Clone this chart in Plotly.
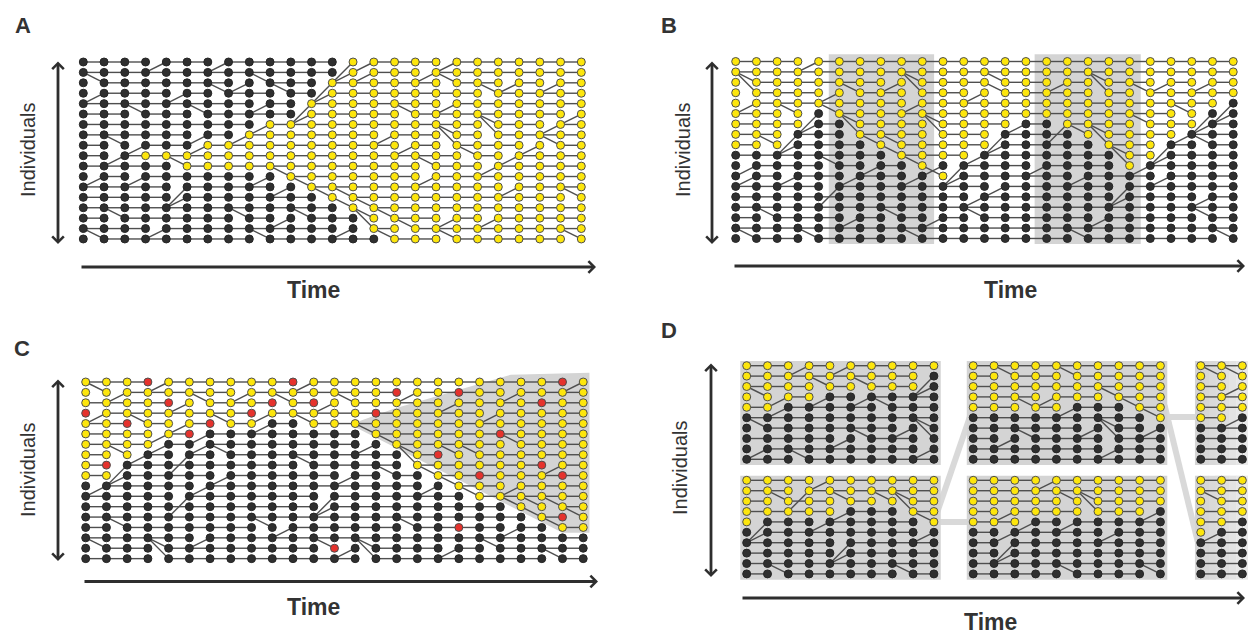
import plotly.graph_objects as go

W, H = 1248, 635

# ---------------- data: node states (run-length: k=black, y=yellow, r=red) ----------------
A_colors = ["k13 y12", "k13 y12", "k12 y13", "k12 y13", "k11 y14", "k11 y14", "k9 y16", "k8 y17",
            "k6 y19", "k3 y22", "k5 y20", "k10 y15", "k11 y14", "k12 y13", "k13 y12", "k14 y11",
            "k14 y11", "k15 y10"]
B_colors = ["y25", "y25", "y25", "y25", "y24 k1", "y4 k1 y18 k2", "y4 k2 y8 k2 y7 k2",
            "y3 k3 y7 k4 y5 k3", "y3 k4 y6 k5 y3 k4", "k8 y4 k7 y2 k4", "k9 y1 k9 y1 k5",
            "k10 y1 k14", "k25", "k25", "k25", "k25", "k25", "k25"]
C_colors = ["y3 r1 y6 r1 y12 r1 y1", "y15 r1 y2 r1 y6", "y4 r1 y4 r1 y1 r1 y10 r1 y2",
            "r1 y7 r1 y5 r1 y10", "y2 r1 y3 r1 y2 k2 y14", "y5 r1 k8 y6 r1 y4", "y4 k11 y10",
            "y3 k13 y1 r1 y7", "y1 r1 k14 y6 r1 y2", "y2 k15 y2 r1 y3 r1 y1", "k18 y7", "k19 y6",
            "k21 y4", "k22 y1 r1 y1", "k18 r1 k4 y2", "k25", "k12 r1 k12", "k25"]
D_TL_colors = ["y10", "y9 k1", "y9 k1", "y4 k6", "y2 k8", "k10", "k10", "k10", "k10", "k10"]
D_BL_colors = ["y10", "y10", "y10", "y5 k3 y2", "y1 k8 y1", "k10", "k10", "k10", "k10", "k10"]
D_MT_colors = ["y10", "y10", "y10", "y10", "y5 k3 y2", "k9 y1", "k10", "k10", "k10", "k10"]
D_MB_colors = ["y10", "y10", "y10", "y9 k1", "y3 k7", "k10", "k10", "k10", "k10", "k10"]
D_RT_colors = ["y3", "y3", "y3", "y3", "y3", "y2 k1", "k3", "k3", "k3", "k3"]
D_RB_colors = ["y3", "y3", "y3", "y3", "y2 k1", "y1 k2", "k3", "k3", "k3", "k3"]

# ---------------- data: parent links that are not horizontal ----------------
# (row, col, code): parent sits in previous column at row + offset
# u: row-1, U: row-2, d: row+1, D: row+2 ; all other links are horizontal
A_diag = [(10, 5, 'u'), (8, 6, 'd'), (7, 8, 'd'), (6, 9, 'd'), (11, 10, 'u'), (5, 11, 'd'), (4, 11, 'D'),
          (12, 11, 'u'), (2, 12, 'D'), (3, 12, 'd'), (13, 12, 'u'), (0, 13, 'D'), (1, 13, 'd'), (14, 13, 'u'),
          (15, 14, 'u'), (16, 14, 'U'), (17, 15, 'u'),
          (0, 4, 'd'), (0, 7, 'd'), (2, 1, 'u'), (2, 9, 'u'), (3, 7, 'u'), (2, 8, 'd'), (3, 1, 'd'), (3, 10, 'u'),
          (3, 5, 'd'), (5, 6, 'u'), (4, 9, 'd'), (5, 3, 'u'), (8, 2, 'u'), (7, 6, 'd'), (8, 3, 'd'), (9, 2, 'd'),
          (11, 1, 'd'), (11, 3, 'd'), (12, 5, 'D'), (13, 5, 'd'), (11, 9, 'd'), (12, 10, 'd'), (15, 2, 'u'),
          (15, 8, 'u'), (15, 11, 'u'), (17, 1, 'u'), (16, 4, 'd'), (17, 9, 'u'), (15, 10, 'd'), (16, 13, 'd'),
          (0, 14, 'd'), (1, 14, 'd'), (0, 18, 'd'), (2, 18, 'u'), (1, 17, 'd'), (3, 20, 'u'), (2, 21, 'd'),
          (2, 23, 'd'), (4, 18, 'd'), (5, 16, 'u'), (6, 20, 'u'), (7, 20, 'U'), (7, 18, 'u'), (8, 18, 'U'),
          (9, 19, 'u'), (6, 23, 'd'), (5, 24, 'd'), (8, 23, 'u'), (7, 15, 'd'), (8, 16, 'd'), (10, 17, 'u'),
          (10, 20, 'd'), (9, 21, 'd'), (8, 22, 'd'), (13, 13, 'u'), (14, 14, 'u'), (15, 15, 'u'), (16, 16, 'u'),
          (11, 17, 'd'), (12, 21, 'd'), (13, 24, 'u'), (15, 18, 'd'), (17, 18, 'u'), (15, 20, 'd'), (17, 24, 'u')]
B_diag = [(5, 4, 'D'), (6, 4, 'd'), (7, 3, 'D'), (8, 3, 'd'), (5, 5, 'u'), (6, 6, 'u'), (7, 6, 'U'), (8, 7, 'u'),
          (9, 8, 'u'), (10, 9, 'u'), (11, 10, 'u'), (10, 10, 'd'), (9, 12, 'd'), (7, 13, 'D'), (8, 13, 'd'),
          (6, 14, 'd'), (6, 16, 'D'), (7, 17, 'u'), (8, 18, 'U'), (9, 19, 'u'), (10, 19, 'U'), (7, 22, 'd'),
          (8, 21, 'D'), (9, 21, 'd'), (10, 20, 'd'), (5, 23, 'D'), (6, 23, 'd'), (4, 24, 'D'), (11, 11, 'd'),
          (0, 4, 'd'), (2, 1, 'u'), (3, 1, 'U'), (4, 1, 'd'), (5, 3, 'u'), (8, 2, 'u'), (3, 5, 'd'), (3, 6, 'u'),
          (2, 8, 'd'), (2, 9, 'u'), (3, 9, 'U'), (4, 9, 'd'), (6, 10, 'u'), (7, 10, 'U'), (3, 12, 'd'),
          (8, 8, 'u'), (2, 13, 'u'), (3, 13, 'u'), (2, 16, 'd'), (2, 18, 'u'), (3, 18, 'U'), (3, 20, 'u'),
          (2, 21, 'd'), (2, 23, 'd'), (7, 18, 'u'), (6, 20, 'u'), (5, 22, 'u'),
          (8, 23, 'u'), (5, 24, 'd'), (10, 1, 'd'), (11, 1, 'd'), (11, 3, 'd'), (15, 2, 'u'), (17, 1, 'u'),
          (17, 4, 'u'), (12, 5, 'D'), (11, 6, 'd'), (10, 7, 'd'), (10, 5, 'u'), (15, 6, 'd'), (15, 8, 'u'),
          (17, 9, 'u'), (11, 9, 'd'), (15, 10, 'd'), (10, 11, 'D'), (13, 12, 'd'), (15, 12, 'u'), (12, 13, 'd'),
          (10, 15, 'd'), (11, 17, 'd'), (13, 19, 'd'), (12, 19, 'D'), (15, 18, 'd'), (17, 17, 'u'),
          (11, 21, 'd'), (13, 23, 'd'), (15, 23, 'u'), (17, 24, 'u')]
C_diag = [(8, 2, 'D'), (9, 2, 'd'), (7, 3, 'd'), (6, 4, 'd'), (5, 6, 'd'), (4, 9, 'd'), (4, 11, 'u'),
          (5, 14, 'u'), (6, 15, 'u'), (7, 16, 'u'), (8, 16, 'U'), (9, 17, 'u'), (10, 18, 'u'), (11, 19, 'u'),
          (12, 21, 'u'), (13, 22, 'u'), (14, 23, 'u'),
          (1, 1, 'u'), (1, 2, 'd'), (0, 4, 'd'), (2, 5, 'd'), (2, 6, 'u'), (1, 8, 'd'), (2, 10, 'u'),
          (0, 11, 'd'), (3, 1, 'd'), (4, 3, 'u'), (4, 7, 'u'), (3, 9, 'd'), (2, 12, 'd'), (7, 2, 'u'),
          (5, 4, 'd'), (4, 5, 'd'), (2, 13, 'u'), (1, 16, 'd'), (2, 18, 'd'), (3, 20, 'd'), (1, 21, 'd'),
          (0, 24, 'd'), (6, 21, 'u'), (7, 18, 'u'), (7, 19, 'u'), (8, 23, 'd'), (10, 21, 'd'), (12, 22, 'u'),
          (12, 23, 'u'), (13, 24, 'u'),
          (7, 5, 'D'), (6, 6, 'd'), (7, 7, 'u'), (8, 11, 'u'), (11, 5, 'D'), (10, 6, 'd'), (9, 7, 'd'),
          (14, 2, 'u'), (16, 1, 'u'), (16, 4, 'u'), (17, 4, 'U'), (14, 9, 'u'), (14, 10, 'd'), (12, 12, 'd'),
          (11, 12, 'D'), (16, 12, 'u'), (15, 6, 'd'), (10, 1, 'd'), (16, 14, 'u'), (17, 14, 'U'),
          (16, 13, 'd'), (14, 16, 'u'), (16, 18, 'd'), (16, 20, 'u'), (14, 21, 'd'), (17, 23, 'u'),
          (6, 14, 'd'), (9, 15, 'u'), (10, 17, 'd'), (9, 13, 'd')]
D_TL_diag = [(3, 4, 'd'), (4, 2, 'd'), (1, 9, 'D'), (2, 9, 'd'), (0, 3, 'd'), (3, 1, 'u'), (3, 2, 'd'),
             (2, 4, 'u'), (0, 5, 'd'), (2, 6, 'u'), (6, 1, 'u'), (7, 6, 'u'), (6, 8, 'd'), (7, 9, 'U'),
             (6, 9, 'u'), (8, 1, 'd'), (9, 3, 'u'), (7, 5, 'd'), (8, 9, 'd'), (3, 6, 'd'), (4, 7, 'u')]
D_BL_diag = [(3, 5, 'd'), (4, 1, 'D'), (5, 1, 'd'), (3, 8, 'U'), (2, 8, 'u'), (4, 9, 'u'), (1, 3, 'D'),
             (2, 2, 'u'), (0, 4, 'd'), (2, 5, 'u'), (2, 7, 'u'), (6, 5, 'D'), (7, 5, 'd'), (5, 9, 'd'),
             (9, 2, 'u'), (9, 8, 'u'), (4, 4, 'd')]
D_MT_diag = [(4, 5, 'd'), (4, 8, 'u'), (5, 9, 'u'), (1, 2, 'u'), (4, 3, 'u'), (3, 4, 'd'), (1, 5, 'u'),
             (3, 7, 'u'), (7, 7, 'U'), (6, 7, 'u'), (7, 3, 'u'), (7, 2, 'd'), (6, 6, 'd'), (6, 9, 'd'),
             (8, 7, 'd')]
D_MB_diag = [(3, 9, 'd'), (4, 3, 'd'), (0, 4, 'd'), (2, 5, 'u'), (2, 6, 'u'), (3, 6, 'U'), (3, 2, 'd'),
             (5, 2, 'd'), (6, 2, 'D'), (7, 2, 'd'), (4, 5, 'd'), (5, 7, 'd'), (9, 5, 'u'), (9, 9, 'u')]
D_RT_diag = [(1, 1, 'u'), (1, 2, 'u'), (2, 2, 'd'), (5, 2, 'd')]
D_RB_diag = [(2, 1, 'u'), (5, 1, 'd')]

# ---------------- layout / style ----------------
GEOM = {  # pixel position of node (0,0) and spacing of each panel's grid
    'A': (83.3, 20.75, 62.0, 10.41),
    'B': (735.7, 20.73, 61.5, 10.41),
    'C': (85.7, 20.73, 382.0, 10.39),
    'D': (746.7, 20.8, 365.7, 10.4),
}
AXES = {'A': ('x', 'y'), 'B': ('x2', 'y2'), 'C': ('x3', 'y3'), 'D': ('x4', 'y4')}
D_OFF = {'TL': (0, 0), 'BL': (0, 11.02), 'MT': (10.89, 0), 'MB': (10.89, 11.02),
         'RT': (21.83, 0), 'RB': (21.83, 11.02)}

YELLOW, BLACK, RED = '#fde60c', '#2f2f2f', '#e5322d'
FILL = {'k': BLACK, 'y': YELLOW, 'r': RED}
EDGE = {'k': '#262626', 'y': '#4d4d4d', 'r': '#4d4d4d'}
LINK = '#4f4f4f'
BOX = '#d4d4d4'
FONT = 'Liberation Sans, Arial, sans-serif'
TXT = '#333333'
OFFS = {'u': -1, 'U': -2, 'd': 1, 'D': 2}


def expand(spec):
    return ''.join(tok[0] * int(tok[1:]) for tok in spec.split())


fig = go.Figure()


def add_block(colors, diags, axes, xo=0.0, yo=0.0):
    grid = [expand(s) for s in colors]
    nr, nc = len(grid), len(grid[0])
    par = {}
    for r, c, code in diags:
        par[(r, c)] = OFFS[code]
    lx, ly = [], []
    for r in range(nr):
        for c in range(1, nc):
            pr = r + par.get((r, c), 0)
            lx += [xo + c - 1, xo + c, None]
            ly += [yo + pr, yo + r, None]
    fig.add_trace(go.Scatter(x=lx, y=ly, mode='lines', xaxis=axes[0], yaxis=axes[1],
                             line=dict(color=LINK, width=1.4), hoverinfo='skip'))
    nx, ny, fc, ec = [], [], [], []
    for r in range(nr):
        for c in range(nc):
            s = grid[r][c]
            nx.append(xo + c); ny.append(yo + r)
            fc.append(FILL[s]); ec.append(EDGE[s])
    fig.add_trace(go.Scatter(x=nx, y=ny, mode='markers', xaxis=axes[0], yaxis=axes[1],
                             marker=dict(size=8.0, color=fc, line=dict(color=ec, width=1)),
                             hoverinfo='skip'))


shapes = []
# panel B shaded windows
for x0, x1 in [(4.49, 9.57), (14.42, 19.54)]:
    shapes.append(dict(type='rect', xref='x2', yref='y2', x0=x0, x1=x1, y0=-0.69, y1=17.53,
                       fillcolor=BOX, line=dict(width=0), layer='below'))
# panel C shaded wedge
shapes.append(dict(type='path', xref='x3', yref='y3',
                   path='M 12.75,4.1 L 14.9,2.55 L 20.5,-0.7 L 24.3,-0.9 L 24.3,14.5 L 23.0,14.5 Z',
                   fillcolor=BOX, line=dict(width=0), layer='below'))
# panel D connectors (drawn first, under boxes)
for (xa, ya, xb, yb) in [(9.0, 15.02, 10.89, 15.02), (9.0, 15.02, 10.89, 4.0),
                         (19.9, 4.93, 22.2, 4.93), (20.09, 3.81, 21.68, 16.89)]:
    shapes.append(dict(type='line', xref='x4', yref='y4', x0=xa, y0=ya, x1=xb, y1=yb,
                       line=dict(color='#d9d9d9', width=6), layer='below'))
# panel D boxes
for key in ['TL', 'BL', 'MT', 'MB']:
    xo, yo = D_OFF[key]
    shapes.append(dict(type='rect', xref='x4', yref='y4', x0=xo - 0.31, x1=xo + 9.33,
                       y0=yo - 0.45, y1=yo + 9.55, fillcolor=BOX, line=dict(width=0), layer='below'))
# right-hand boxes fading out
grad = ['#d4d4d4', '#d6d6d6', '#d9d9d9', '#dcdcdc', '#dfdfdf', '#e3e3e3', '#e7e7e7', '#ebebeb']
for key in ['RT', 'RB']:
    xo, yo = D_OFF[key]
    x_start = xo - 0.28
    step = (24.2 - x_start) / len(grad)
    for i, col in enumerate(grad):
        shapes.append(dict(type='rect', xref='x4', yref='y4', x0=x_start + i * step,
                           x1=x_start + (i + 1) * step + 0.02, y0=yo - 0.45, y1=yo + 9.55,
                           fillcolor=col, line=dict(width=0), layer='below'))

add_block(A_colors, A_diag, AXES['A'])
add_block(B_colors, B_diag, AXES['B'])
add_block(C_colors, C_diag, AXES['C'])
for key, cols, dg in [('TL', D_TL_colors, D_TL_diag), ('BL', D_BL_colors, D_BL_diag),
                      ('MT', D_MT_colors, D_MT_diag), ('MB', D_MB_colors, D_MB_diag),
                      ('RT', D_RT_colors, D_RT_diag), ('RB', D_RB_colors, D_RB_diag)]:
    xo, yo = D_OFF[key]
    add_block(cols, dg, AXES['D'], xo, yo)

# axes: each panel's grid index mapped onto the full page
layout_axes = {}
for i, key in enumerate(['A', 'B', 'C', 'D']):
    px0, dx, py0, dy = GEOM[key]
    sfx = '' if i == 0 else str(i + 1)
    layout_axes['xaxis' + sfx] = dict(domain=[0, 1], range=[-px0 / dx, (W - px0) / dx], visible=False,
                                      fixedrange=True, anchor='y' + sfx)
    layout_axes['yaxis' + sfx] = dict(domain=[0, 1], range=[(H - py0) / dy, -py0 / dy], visible=False,
                                      fixedrange=True, anchor='x' + sfx)


def px(x):
    return x / W


def py(y):
    return 1 - y / H


ann = []


def text(x, y, s, size, bold=False, angle=0):
    ann.append(dict(x=px(x), y=py(y), xref='paper', yref='paper', showarrow=False,
                    text=('<b>%s</b>' % s) if bold else s, textangle=angle,
                    font=dict(family=FONT, size=size, color=TXT), xanchor='center', yanchor='middle'))


def arrow(x_head, y_head, x_tail, y_tail, both):
    d = dict(x=px(x_head), y=py(y_head), xref='paper', yref='paper', text='', showarrow=True,
             ax=x_tail - x_head, ay=y_tail - y_head, axref='pixel', ayref='pixel',
             arrowhead=4, arrowsize=0.8, arrowwidth=2.8, arrowcolor='#2e2e2e', standoff=0)
    if both:
        d.update(arrowside='end+start', startarrowhead=4, startarrowsize=0.8, startstandoff=0)
    ann.append(d)


# panel letters
for (x, y, s) in [(23, 26, 'A'), (669, 26, 'B'), (22, 348, 'C'), (669, 330, 'D')]:
    text(x, y, s, 22, bold=True)
# axis labels
for (x, y) in [(28, 150), (683, 150), (28, 470), (680, 467)]:
    text(x, y, 'Individuals', 20, angle=-90)
for (x, y) in [(313, 290), (1010, 290), (313, 607), (990, 622)]:
    text(x, y, 'Time', 23, bold=True)
# arrows
arrow(58, 244, 58, 60, True)
arrow(712, 244, 712, 60, True)
arrow(58, 561, 58, 378, True)
arrow(711, 577, 711, 362, True)
arrow(596, 267, 80, 267, False)
arrow(1245, 266, 733, 266, False)
arrow(598, 581.5, 83, 581.5, False)
arrow(1245, 598, 741, 598, False)

fig.update_layout(width=W, height=H, margin=dict(l=0, r=0, t=0, b=0), showlegend=False,
                  paper_bgcolor='white', plot_bgcolor='rgba(0,0,0,0)', shapes=shapes,
                  annotations=ann, **layout_axes)

fig.write_html("out.html", config={'displayModeBar': False, 'staticPlot': True},
               post_script="document.body.style.margin='0';")
